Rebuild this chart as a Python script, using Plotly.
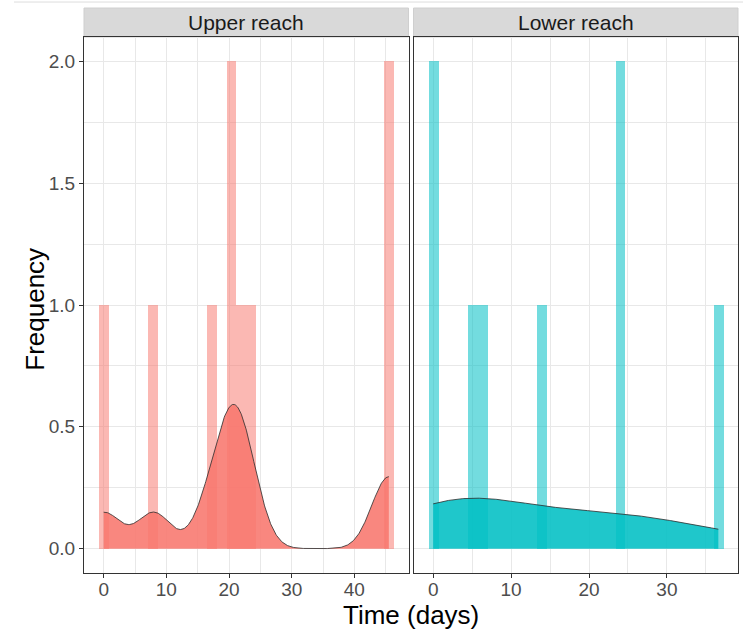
import numpy as np
import plotly.graph_objects as go

# Observation times (days) for each reach
upper_times = [0, 8, 17, 20, 20.5, 21.5, 23, 45.5, 45.5]
lower_times = [0, 0, 5, 6, 14, 24, 24, 36.6]

panel_names = ["Upper reach", "Lower reach"]
bar_colors = ["rgba(248,118,109,0.52)", "rgba(0,191,196,0.55)"]
dens_colors = ["rgba(248,118,109,0.88)", "rgba(0,191,196,0.88)"]
bandwidths = [2.7, 8.5]      # kernel bandwidth per reach
n_bins = 30

y_ticks = [0.0, 0.5, 1.0, 1.5, 2.0]
y_ticklabels = ["0.0", "0.5", "1.0", "1.5", "2.0"]
x_ticks_upper = [0, 10, 20, 30, 40]
x_ticks_lower = [0, 10, 20, 30]

W, H = 743, 635
ML, MR, MT, MB = 84, 5, 37, 61.5
plot_w = W - ML - MR
plot_h = H - MT - MB
gap = 5
dom_left = [0, (plot_w - gap) / 2 / plot_w]
dom_right = [(plot_w + gap) / 2 / plot_w, 1]

FONT = "Liberation Sans, Arial, sans-serif"
tick_font = dict(family=FONT, size=19, color="#4D4D4D")
grid_col = "#E8E8E8"

fig = go.Figure()


def count_density(data, h):
    """Gaussian kernel density scaled to counts, evaluated over the data range."""
    data = np.asarray(data, dtype=float)
    xs = np.linspace(data.min(), data.max(), 512)
    k = np.exp(-0.5 * ((xs[:, None] - data[None, :]) / h) ** 2) / (h * np.sqrt(2 * np.pi))
    return xs, k.sum(axis=1)


ranges = []
for i, times in enumerate([upper_times, lower_times]):
    xa = "x" if i == 0 else "x2"
    ya = "y" if i == 0 else "y2"
    lo, hi = min(times), max(times)
    bw = (hi - lo) / (n_bins - 1)
    fig.add_trace(go.Histogram(
        x=times, xaxis=xa, yaxis=ya,
        xbins=dict(start=lo - bw / 2, end=hi + bw / 2 + 1e-9, size=bw),
        marker=dict(color=bar_colors[i], line=dict(width=0)),
        showlegend=False, hoverinfo="skip",
    ))
    xs, ys = count_density(times, bandwidths[i])
    fig.add_trace(go.Scatter(
        x=xs, y=ys, xaxis=xa, yaxis=ya, mode="lines",
        fill="tozeroy", fillcolor=dens_colors[i],
        line=dict(color="#2b2b2b", width=0.8),
        showlegend=False, hoverinfo="skip",
    ))
    span = (hi + bw / 2) - (lo - bw / 2)
    ranges.append([lo - bw / 2 - 0.05 * span, hi + bw / 2 + 0.05 * span])

axis_common = dict(
    showline=True, mirror=True, linecolor="#333333", linewidth=1,
    showgrid=True, gridcolor=grid_col, gridwidth=1, zeroline=False,
    tickcolor="#333333", tickfont=tick_font, ticklen=4,
)
minor_x = dict(dtick=5, tick0=0, showgrid=True, gridcolor=grid_col, gridwidth=0.6, ticks="")
minor_y = dict(dtick=0.25, tick0=0, showgrid=True, gridcolor=grid_col, gridwidth=0.6, ticks="")

fig.update_layout(
    width=W, height=H,
    margin=dict(l=ML, r=MR, t=MT, b=MB),
    paper_bgcolor="white", plot_bgcolor="white",
    bargap=0, barmode="overlay",
    xaxis=dict(domain=dom_left, range=ranges[0], tickvals=x_ticks_upper, ticks="outside",
               ticklabelstandoff=-5, minor=minor_x, **axis_common),
    xaxis2=dict(domain=dom_right, range=ranges[1], tickvals=x_ticks_lower, ticks="outside",
                ticklabelstandoff=-5, minor=minor_x, anchor="y2", **axis_common),
    yaxis=dict(range=[-0.1, 2.1], tickvals=y_ticks, ticktext=y_ticklabels, ticks="outside",
               minor=minor_y, **axis_common),
    yaxis2=dict(range=[-0.1, 2.1], tickvals=y_ticks, showticklabels=False, ticks="",
                minor=minor_y, anchor="x2", **axis_common),
)

# facet strips
strip_top = 1 + 29 / plot_h
shapes = []
annotations = []
for i, name in enumerate(panel_names):
    xref = "x domain" if i == 0 else "x2 domain"
    shapes.append(dict(type="rect", xref=xref, yref="paper", x0=0, x1=1, y0=1, y1=strip_top,
                       fillcolor="#D9D9D9", line=dict(color="#CFCFCF", width=1), layer="below"))
    annotations.append(dict(text=name, xref=xref, yref="paper", x=0.5, y=(1 + strip_top) / 2,
                            showarrow=False, xanchor="center", yanchor="middle",
                            font=dict(family=FONT, size=21, color="#1A1A1A")))

# thin rule along the top edge
shapes.append(dict(type="line", xref="paper", yref="paper",
                   x0=(14 - ML) / plot_w, x1=(W - ML) / plot_w,
                   y0=(H - MB - 2) / plot_h, y1=(H - MB - 2) / plot_h,
                   line=dict(color="#DDDDDD", width=1)))

title_font = dict(family=FONT, size=26, color="black")
annotations.append(dict(text="Time (days)", xref="paper", yref="paper",
                        x=(411 - ML) / plot_w, y=(H - MB - 616) / plot_h,
                        showarrow=False, xanchor="center", yanchor="middle", font=title_font))
annotations.append(dict(text="Frequency", xref="paper", yref="paper",
                        x=(35 - ML) / plot_w, y=(H - MB - 310) / plot_h,
                        showarrow=False, textangle=-90, xanchor="center", yanchor="middle",
                        font=title_font))

fig.update_layout(shapes=shapes, annotations=annotations)

fig.write_html("out.html")
